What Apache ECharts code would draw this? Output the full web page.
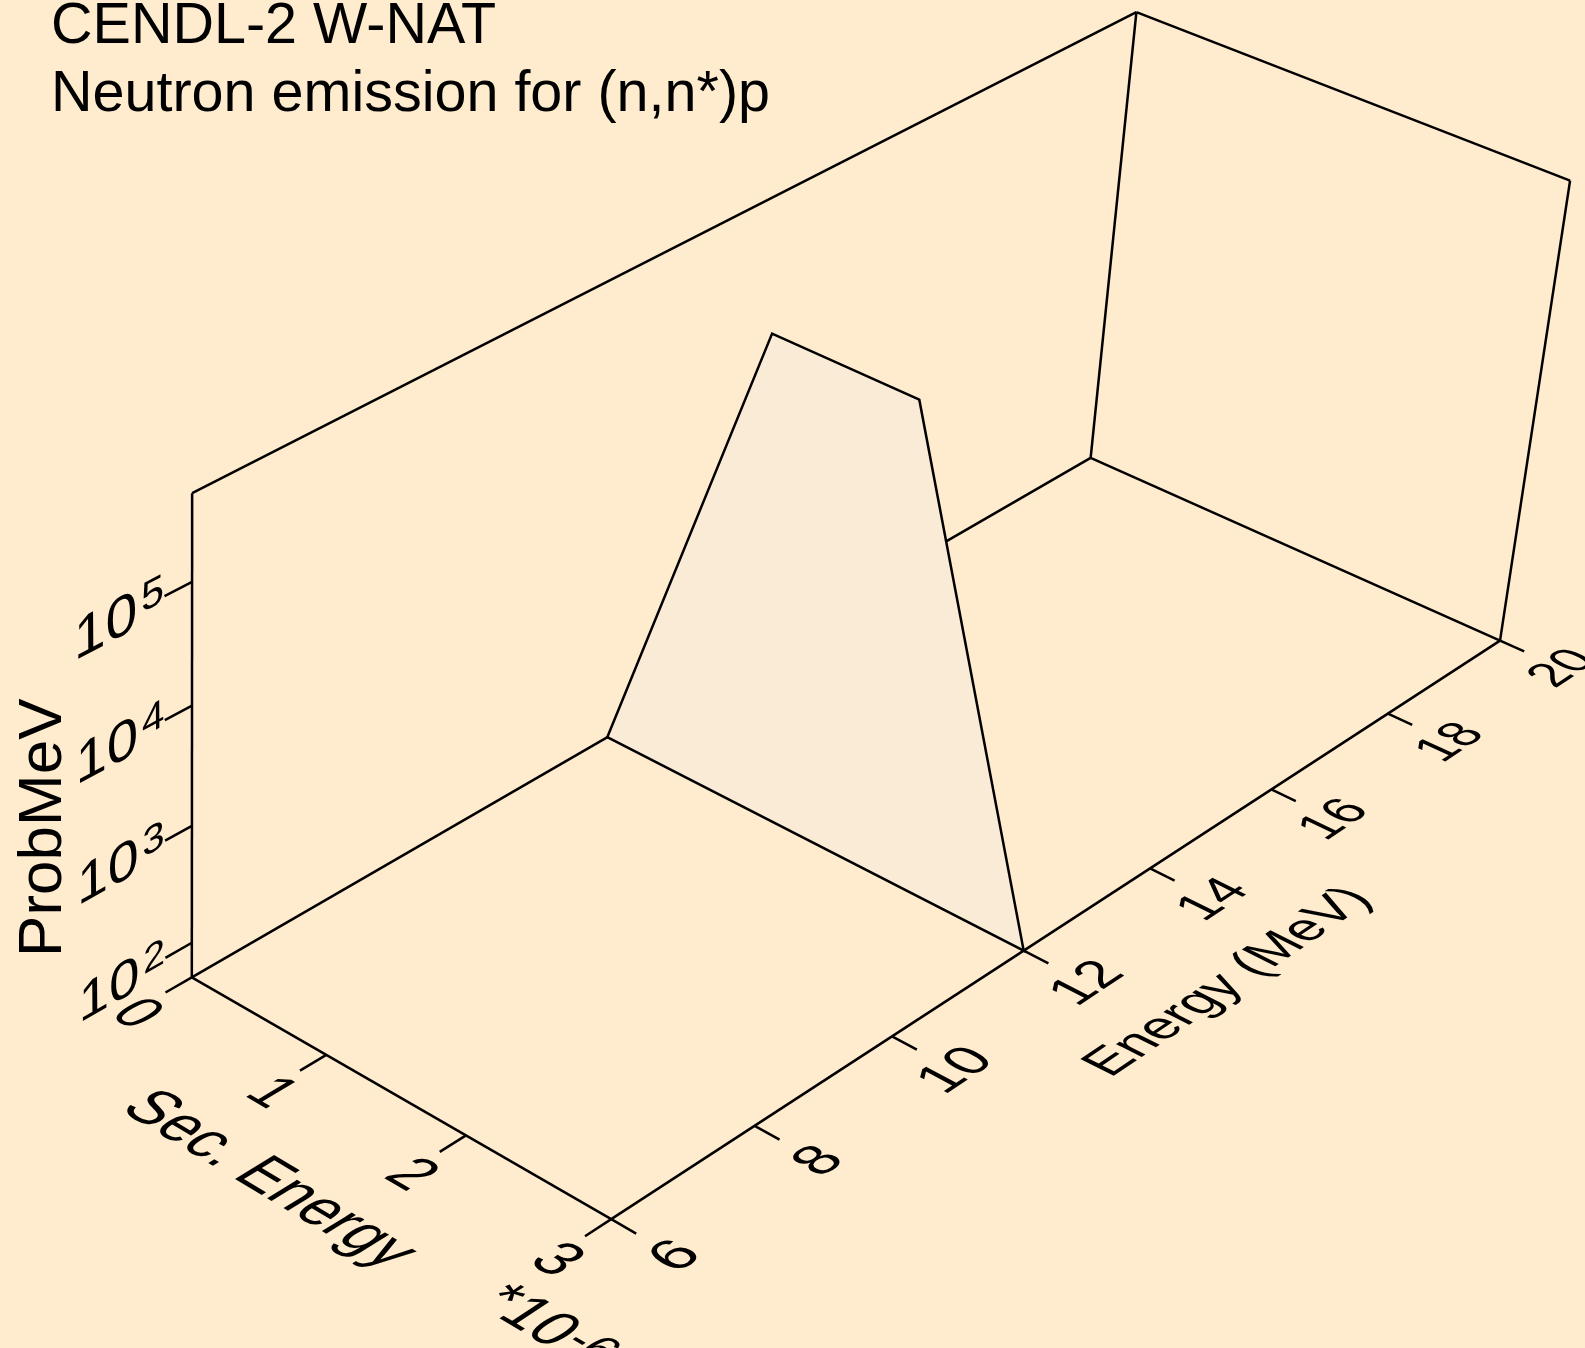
<!DOCTYPE html>
<html>
<head>
<meta charset="utf-8">
<title>CENDL-2 W-NAT</title>
<script src="https://cdn.jsdelivr.net/npm/echarts@6/dist/echarts.min.js"></script>
<style>
html,body{margin:0;padding:0;background:#FFEBCD;}
#chart{width:1585px;height:1348px;}
</style>
</head>
<body>
<div id="chart"></div>
<script>
// ---------------- data ----------------
const titleLines = ['CENDL-2 W-NAT', 'Neutron emission for (n,n*)p'];
const incidentEnergy = [12];                 // MeV
const secEnergy = [0, 1, 2, 3];              // x 10^-6
const probPerMeV = [0, 5e5, 5e5, 0];
const secTicks = [0, 1, 2, 3];
const energyTicks = [6, 8, 10, 12, 14, 16, 18, 20];
const probTickExponents = [2, 3, 4, 5];
const secRange = [0, 3];
const energyRange = [6, 20];
const probRange = [50, 5e5];
const axisNames = { sec: 'Sec. Energy', secScale: '*10', secScaleExp: '-6', energy: 'Energy (MeV)', prob: 'ProbMeV' };

// ---------------- view: perspective camera (unit box -> view plane) ----------------
const CAMERA = [
  [385.1987, 1058.050, -10.26671, 191.8177],
  [173.6442, -452.6650, -511.3338, 977.2970],
  [-0.05596411, 0.1459867, -0.05516361, 1.0]
];
const BOX = [1, 2.2, 1];          // world aspect of the unit box
const FONT = '"Liberation Sans", Arial, Helvetica, sans-serif';
const W = 1585, H = 1348;

const LOGP = [Math.log10(probRange[0]), Math.log10(probRange[1])];
function toUnit(sec, en, p) {
  const X = (sec - secRange[0]) / (secRange[1] - secRange[0]);
  const Y = (en - energyRange[0]) / (energyRange[1] - energyRange[0]);
  let Z = p > 0 ? (Math.log10(p) - LOGP[0]) / (LOGP[1] - LOGP[0]) : 0;
  Z = Math.max(0, Math.min(1, Z));
  return [X, Y, Z];
}
function projectUnit(q) {
  const M = CAMERA;
  const w = M[2][0] * q[0] + M[2][1] * q[1] + M[2][2] * q[2] + M[2][3];
  return [
    (M[0][0] * q[0] + M[0][1] * q[1] + M[0][2] * q[2] + M[0][3]) / w,
    (M[1][0] * q[0] + M[1][1] * q[1] + M[1][2] * q[2] + M[1][3]) / w
  ];
}
function pt(api, q) { return api.coord(projectUnit(q)); }

function text3D(api, L) {
  const F = L.fontSize || 60;
  const step = 0.2;
  const at = L.at;
  const d = (dir, s) => [at[0] + dir[0] / BOX[0] * s, at[1] + dir[1] / BOX[1] * s, at[2] + dir[2] / BOX[2] * s];
  const p0 = pt(api, at), pb = pt(api, d(L.base, L.em * step)), pu = pt(api, d(L.up, L.em * step));
  const k0 = 1 / (F * step);
  const B = [(pb[0] - p0[0]) * k0, (pb[1] - p0[1]) * k0];
  const Dn = [-(pu[0] - p0[0]) * k0, -(pu[1] - p0[1]) * k0];
  const th = Math.atan2(-B[1], B[0]), ct = Math.cos(th), st = Math.sin(th);
  const sx = Math.hypot(B[0], B[1]);
  const sy = st * Dn[0] + ct * Dn[1];
  const sk = (ct * Dn[0] - st * Dn[1]) / sy;
  return {
    type: 'text', x: p0[0], y: p0[1], rotation: th, scaleX: sx, scaleY: sy, skewX: Math.atan(sk),
    style: {
      text: L.text, rich: L.rich, fontFamily: FONT, fontSize: F, fill: '#000',
      align: L.align || 'center', verticalAlign: L.va || 'middle'
    }
  };
}

// ---------------- geometry built from ranges ----------------
const S0 = secRange[0], S1 = secRange[1], E0 = energyRange[0], E1 = energyRange[1], P0 = probRange[0], P1 = probRange[1];
const backEdges = [
  [S0, E0, P0, S0, E1, P0], [S0, E1, P0, S1, E1, P0],
  [S0, E1, P0, S0, E1, P1], [S1, E1, P0, S1, E1, P1],
  [S0, E0, P1, S0, E1, P1], [S0, E1, P1, S1, E1, P1]
];
const frontEdges = [
  [S0, E0, P0, S1, E0, P0], [S1, E0, P0, S1, E1, P0], [S0, E0, P0, S0, E0, P1]
];
const TICK = 0.056; // world length of tick marks

const tickSegs = [];
secTicks.forEach(s => { const q = toUnit(s, E0, P0); tickSegs.push([q, [q[0], q[1] - TICK / BOX[1], q[2]]]); });
energyTicks.forEach(e => { const q = toUnit(S1, e, P0); tickSegs.push([q, [q[0] + TICK / BOX[0], q[1], q[2]]]); });
probTickExponents.forEach(k => { const q = toUnit(S0, E0, Math.pow(10, k)); tickSegs.push([q, [q[0], q[1] - TICK / BOX[1], q[2]]]); });

const supRich = (F, r, gap) => ({
  b: { fontFamily: FONT, fontSize: F, lineHeight: F, padding: [F * 0.45, 0, 0, 0], verticalAlign: 'bottom' },
  s: { fontFamily: FONT, fontSize: F * r, lineHeight: F * r, padding: [0, 0, 0, F * gap], verticalAlign: 'top' }
});

const labels3D = [];
probTickExponents.forEach(k => {
  const z = toUnit(S0, E0, Math.pow(10, k))[2];
  labels3D.push({ at: [0, -0.067, z - 0.003], base: [0, 1, 0], up: [0, 0, 1], em: 0.114,
    text: '{b|10}{s|' + k + '}', rich: supRich(60, 0.72, 0.07) });
});
secTicks.forEach(s => {
  const x = toUnit(s, E0, P0)[0];
  labels3D.push({ at: [x + 0.01, -0.058, 0], base: [1, 0, 0], up: [0, 1, 0], em: 0.112, text: String(s) });
});
energyTicks.forEach(e => {
  const y = toUnit(S1, e, P0)[1];
  labels3D.push({ at: [1.145, y, 0], base: [0, 1, 0], up: [-1, 0, 0], em: 0.11, text: String(e) });
});
labels3D.push({ at: [0.515, -0.127, 0], base: [1, 0, 0], up: [0, 1, 0], em: 0.117, text: axisNames.sec });
labels3D.push({ at: [1.12, -0.113, 0], base: [1, 0, 0], up: [0, 1, 0], em: 0.11,
  text: '{b|' + axisNames.secScale + '}{s|' + axisNames.secScaleExp + '}', rich: supRich(60, 0.8, 0.04) });
labels3D.push({ at: [1.32, 0.498, 0], base: [0, 1, 0], up: [-1, 0, 0], em: 0.107, text: axisNames.energy });

const lineStyle = { stroke: '#000', lineWidth: 2.5 };
function edgeRender(params, api) {
  const a = pt(api, toUnit(api.value(0), api.value(1), api.value(2)));
  const b = pt(api, toUnit(api.value(3), api.value(4), api.value(5)));
  return { type: 'line', shape: { x1: a[0], y1: a[1], x2: b[0], y2: b[1] }, style: lineStyle };
}

const chart = echarts.init(document.getElementById('chart'), null, { renderer: 'canvas' });

chart.setOption({
  backgroundColor: '#FFEBCD',
  animation: false,
  title: {
    text: titleLines.join('\n'), left: 46, top: -12,
    textStyle: { fontFamily: FONT, fontSize: 57.5, fontWeight: 'normal', color: '#000', lineHeight: 68 }
  },
  grid: { left: 0, right: 0, top: 0, bottom: 0 },
  xAxis: { type: 'value', min: 0, max: W, show: false },
  yAxis: { type: 'value', min: 0, max: H, inverse: true, show: false },
  series: [
    { type: 'custom', name: 'frame-back', silent: true, clip: false, z: 1,
      data: backEdges, renderItem: edgeRender },
    { type: 'custom', name: 'spectrum', silent: true, clip: false, z: 2,
      data: incidentEnergy.map(e => [e]),
      renderItem: (params, api) => {
        const e = api.value(0);
        const pts = secEnergy.map((s, i) => pt(api, toUnit(s, e, probPerMeV[i])));
        const last = secEnergy.length - 1;
        pts.push(pt(api, toUnit(secEnergy[last], e, P0)));
        pts.push(pt(api, toUnit(secEnergy[0], e, P0)));
        return { type: 'polygon', shape: { points: pts },
          style: { fill: '#FAEBD7', stroke: '#000', lineWidth: 2.5, lineJoin: 'miter' } };
      } },
    { type: 'custom', name: 'frame-front', silent: true, clip: false, z: 3,
      data: frontEdges, renderItem: edgeRender },
    { type: 'custom', name: 'ticks', silent: true, clip: false, z: 3,
      data: tickSegs.map((s, i) => [i]),
      renderItem: (params, api) => {
        const seg = tickSegs[api.value(0)];
        const a = pt(api, seg[0]), b = pt(api, seg[1]);
        return { type: 'line', shape: { x1: a[0], y1: a[1], x2: b[0], y2: b[1] }, style: lineStyle };
      } },
    { type: 'custom', name: 'labels', silent: true, clip: false, z: 4,
      data: labels3D.map((l, i) => [i]),
      renderItem: (params, api) => text3D(api, labels3D[api.value(0)]) },
    { type: 'custom', name: 'prob-title', silent: true, clip: false, z: 4,
      data: [[0]],
      renderItem: (params, api) => {
        const p = pt(api, [0, -0.137, 0.49]);
        return { type: 'text', x: p[0], y: p[1], rotation: Math.PI / 2,
          style: { text: axisNames.prob, fontFamily: FONT, fontSize: 62, fill: '#000', align: 'center', verticalAlign: 'middle' } };
      } }
  ]
});
</script>
</body>
</html>
